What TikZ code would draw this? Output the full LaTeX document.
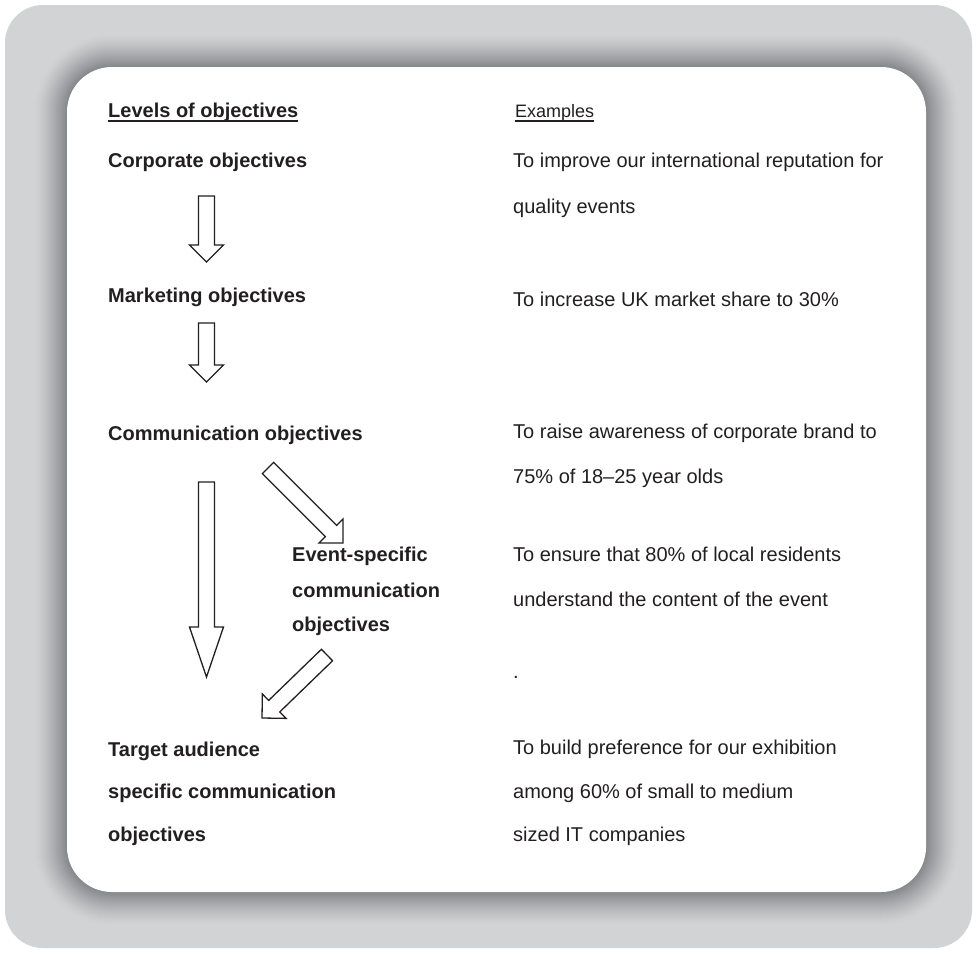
\documentclass[tikz,border=0pt]{standalone}
\usepackage{fontspec}
\setmainfont{Liberation Sans}
\usetikzlibrary{calc}

\definecolor{ink}{HTML}{231F20}
\definecolor{frame}{HTML}{D1D3D4}
\definecolor{glow}{HTML}{85868A}

\tikzset{
  level/.style={anchor=base west, inner sep=0pt, text=ink, font=\fontsize{20}{24}\selectfont\bfseries},
  example/.style={anchor=base west, inner sep=0pt, text=ink, font=\fontsize{20}{24}\selectfont},
  heading/.style={anchor=base west, inner sep=0pt, text=ink, font=\fontsize{18}{21}\selectfont},
  arrowbox/.style={draw=ink, fill=white, line width=1.3pt, line join=miter},
}

% hollow block arrow: start, tip, shaft half width, head half width, head length
\newcommand\blockarrow[5]{%
  \coordinate (ba) at ($(#2)!#5!(#1)$);
  \draw[arrowbox] ($(#1)!#3!90:(#2)$) -- ($(ba)!#3!-90:(#1)$)
    -- ($(ba)!#4!-90:(#1)$) -- (#2) -- ($(ba)!#4!90:(#1)$)
    -- ($(ba)!#3!90:(#1)$) -- ($(#1)!#3!-90:(#2)$) -- cycle;
}

\begin{document}
\begin{tikzpicture}[x=1pt, y=-1pt]
\useasboundingbox (0,0) rectangle (976,953);

% outer frame
\fill[frame, rounded corners=38pt] (5,5) rectangle (972,948);
% soft dark glow around the card
\foreach \k in {0,...,33} {
  \pgfmathsetmacro\off{33-\k}
  \pgfmathtruncatemacro\mix{100*(\k/33)^1.3}
  \pgfmathsetmacro\rad{45+\off}
  \fill[glow!\mix!frame, rounded corners=\rad pt]
    (67-\off,67-\off) rectangle (926+\off,892+\off);
}
% white card
\fill[white, rounded corners=45pt] (67,67) rectangle (926,892);

% left column: levels
\node[level] (lev) at (108,117) {Levels of objectives};
\draw[ink, line width=2pt] ([yshift=-4pt]lev.base west) -- ([yshift=-4pt]lev.base east);
\node[level] (corp) at (108,167) {Corporate objectives};
\node[level] (mkt) at (108,302) {Marketing objectives};
\node[level] (comm) at (108,440) {Communication objectives};
\node[level] (ev1) at (292,561) {Event-specific};
\node[level] (ev2) at (292,597) {communication};
\node[level] (ev3) at (292,631) {objectives};
\node[level] (ta1) at (108,756) {Target audience};
\node[level] (ta2) at (108,798) {specific communication};
\node[level] (ta3) at (108,841) {objectives};

% right column: examples
\node[heading] (ex) at (515,117) {Examples};
\draw[ink, line width=1.2pt] ([yshift=-4pt]ex.base west) -- ([yshift=-4pt]ex.base east);
\node[example] (e1a) at (513,167) {To improve our international reputation for};
\node[example] (e1b) at (513,213) {quality events};
\node[example] (e2) at (513,306) {To increase UK market share to 30\%};
\node[example] (e3a) at (513,438) {To raise awareness of corporate brand to};
\node[example] (e3b) at (513,483) {75\% of 18–25 year olds};
\node[example] (e4a) at (513,561) {To ensure that 80\% of local residents};
\node[example] (e4b) at (513,606) {understand the content of the event};
\node[example] (e4c) at (513,678) {.};
\node[example] (e5a) at (513,754) {To build preference for our exhibition};
\node[example] (e5b) at (513,798) {among 60\% of small to medium};
\node[example] (e5c) at (513,841) {sized IT companies};

% arrows between the levels
\coordinate (a1s) at (206.5,196);
\coordinate (a1e) at (206.5,262);
\coordinate (a2s) at (206.5,323);
\coordinate (a2e) at (206.5,382);
\coordinate (a3s) at (206.5,482);
\coordinate (a3e) at (206.5,677);
\coordinate (a4s) at (268,468);
\coordinate (a4e) at (343,543);
\coordinate (a5s) at (327,655);
\coordinate (a5e) at (262,718);

\blockarrow{a1s}{a1e}{8pt}{17pt}{17pt}
\blockarrow{a2s}{a2e}{8pt}{17pt}{17pt}
\blockarrow{a3s}{a3e}{8pt}{17pt}{50pt}
\blockarrow{a4s}{a4e}{8pt}{17pt}{17pt}
\blockarrow{a5s}{a5e}{8pt}{17pt}{17pt}
\end{tikzpicture}
\end{document}
